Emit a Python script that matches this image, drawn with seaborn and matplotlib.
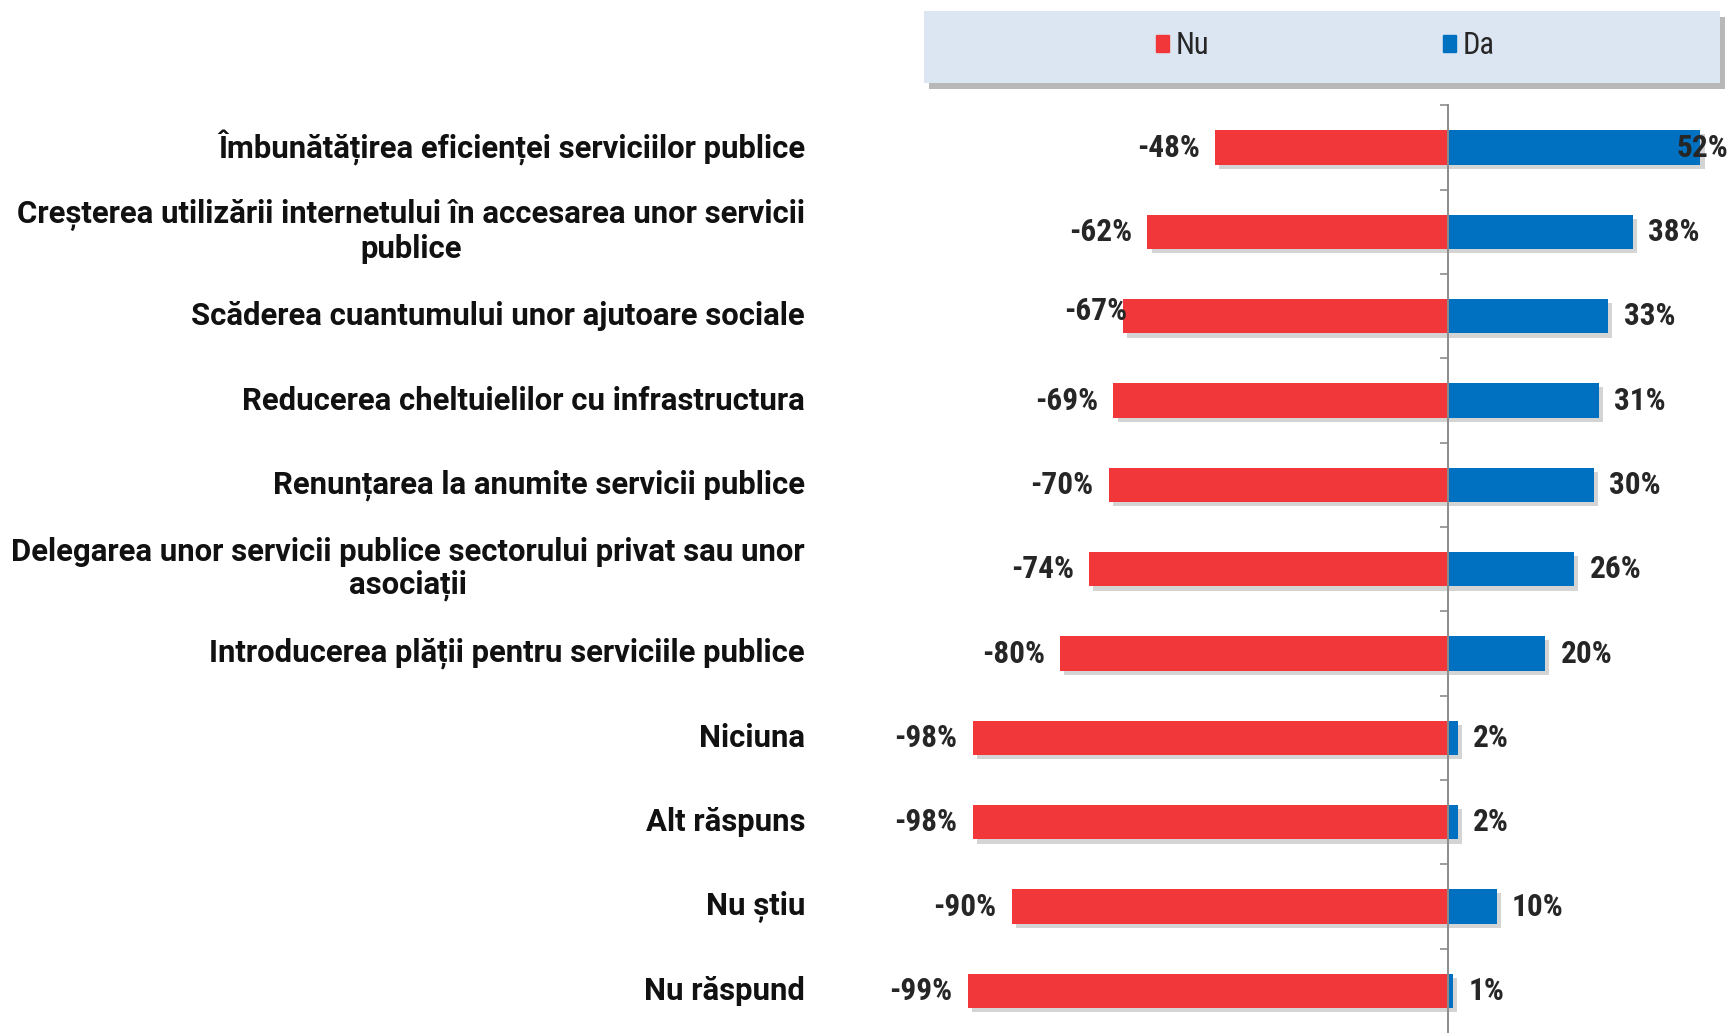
import numpy as np
import pandas as pd
import matplotlib
matplotlib.use('Agg')
import matplotlib.pyplot as plt
import matplotlib.patheffects as pe
from matplotlib.patches import Rectangle, Patch
import seaborn as sns

# Data
categories = [
    'Îmbunătățirea eficienței serviciilor publice',
    'Creșterea utilizării internetului în accesarea unor servicii\npublice',
    'Scăderea cuantumului unor ajutoare sociale',
    'Reducerea cheltuielilor cu infrastructura',
    'Renunțarea la anumite servicii publice',
    'Delegarea unor servicii publice sectorului privat sau unor\nasociații',
    'Introducerea plății pentru serviciile publice',
    'Niciuna',
    'Alt răspuns',
    'Nu știu',
    'Nu răspund',
]
nu_values = [-48, -62, -67, -69, -70, -74, -80, -98, -98, -90, -99]
da_values = [52, 38, 33, 31, 30, 26, 20, 2, 2, 10, 1]

RED = '#F2373A'
BLUE = '#0070C0'

sns.set_style('white')
plt.rcParams['font.family'] = ['Roboto Condensed', 'Roboto', 'DejaVu Sans']

df = pd.DataFrame({'categorie': categories, 'Nu': nu_values, 'Da': da_values})

fig = plt.figure(figsize=(17.33, 10.33), dpi=100)
ax = fig.add_axes([0.5557, 0.0, 0.4339, 0.898])

sns.barplot(data=df, x='Nu', y='categorie', color=RED, width=0.41, orient='h', ax=ax, saturation=1)
sns.barplot(data=df, x='Da', y='categorie', color=BLUE, width=0.41, orient='h', ax=ax, saturation=1)

shadow = [pe.SimplePatchShadow(offset=(3, -3), shadow_rgbFace='#a0a0a0', alpha=0.45), pe.Normal()]
for p in ax.patches:
    p.set_path_effects(shadow)
    p.set_edgecolor('none')

ax.set_xlim(-100, 55)
ax.set_ylim(len(categories) - 0.5, -0.5)
ax.set_xlabel('')
ax.set_ylabel('')
ax.set_xticks([])

# vertical axis at zero with ticks between categories
for s in ['top', 'right', 'bottom']:
    ax.spines[s].set_visible(False)
ax.spines['left'].set_position(('data', 0))
ax.spines['left'].set_color('#8c8c8c')
ax.spines['left'].set_linewidth(1.4)
ax.set_yticks(np.arange(-0.5, len(categories) - 0.5, 1.0))
ax.set_yticklabels([])
ax.tick_params(axis='y', direction='out', length=6, width=1.2, color='#8c8c8c', left=True)

# category labels
for i, cat in enumerate(categories):
    ax.text(-0.21, i, cat, transform=ax.get_yaxis_transform(), ha='right', va='center',
            multialignment='center', fontsize=22.4, fontweight='bold', color='#111111',
            family=['Roboto', 'DejaVu Sans'], linespacing=1.12)

# value labels (a couple are nudged as in the original)
nudges = {('Da', 0): (-17, 0), ('Nu', 2): (3, 4)}
for i, (n, d) in enumerate(zip(nu_values, da_values)):
    off = nudges.get(('Nu', i), (-11, 0))
    ax.annotate(f'{n}%', xy=(n, i), xytext=off, textcoords='offset points',
                ha='right', va='center', fontsize=22.5, fontweight='bold', annotation_clip=False)
    off = nudges.get(('Da', i), (11, 0))
    ax.annotate(f'{d}%', xy=(d, i), xytext=off, textcoords='offset points',
                ha='left', va='center', fontsize=22.5, fontweight='bold', annotation_clip=False)

# legend box
box = Rectangle((0.533, 0.9197), 0.4593, 0.0697, transform=fig.transFigure,
                facecolor='#DCE6F2', edgecolor='none', zorder=0)
box.set_path_effects([pe.SimplePatchShadow(offset=(4, -4), shadow_rgbFace='#8a8a8a', alpha=0.6), pe.Normal()])
fig.add_artist(box)
handles = [Patch(color=RED, label='Nu'), Patch(color=BLUE, label='Da')]
fig.legend(handles=handles, loc='center', bbox_to_anchor=(0.7646, 0.9555), ncol=2, frameon=False,
           handlelength=0.45, handleheight=0.45, handletextpad=0.2, columnspacing=7.65,
           prop={'size': 22})

fig.savefig('out.png', dpi=100)
